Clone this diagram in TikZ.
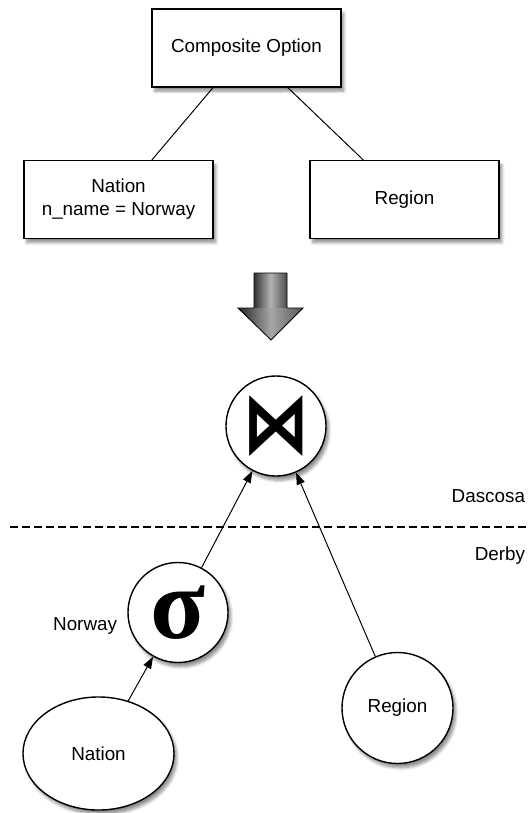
\documentclass[tikz,border=0pt]{standalone}
\usepackage{fontspec}
\setmainfont{Liberation Sans}
\newfontfamily\sigmafont{Liberation Serif}
\newfontfamily\joinfont{DejaVu Sans}
\usetikzlibrary{arrows.meta,shapes.geometric,shadows.blur}
\tikzset{
  soft/.style={blur shadow={shadow xshift=2pt,shadow yshift=-3pt,shadow blur steps=6,shadow opacity=45}},
  optbox/.style={draw,line width=1pt,fill=white,soft,minimum width=4.725cm,minimum height=1.94cm,align=center},
  opnode/.style={draw,circle,line width=1pt,fill=white,soft,minimum size=2.5cm,inner sep=0pt},
  flow/.style={line width=0.7pt,-{Triangle[length=8.5pt,width=6pt]}}
}
\begin{document}
\begin{tikzpicture}[x=0.025cm,y=-0.025cm,every node/.style={font=\fontsize{13.4}{16.4}\selectfont}]
  \useasboundingbox (0,0) rectangle (531,813);
  % option tree
  \node[optbox] (comp) at (246.5,48) {Composite Option};
  \node[optbox] (natopt) at (118.5,199.5) {Nation\\n\_name = Norway};
  \node[optbox] (regopt) at (404.5,199.5) {Region};
  \draw[line width=0.7pt] (comp) -- (natopt);
  \draw[line width=0.7pt] (comp) -- (regopt);
  % big arrow
  \shade[left color=black!80,right color=black!70,middle color=black!30]
    (254,273) rectangle (287,308.5);
  \shade[left color=black!85,right color=black!65,middle color=black!35]
    (303,308) -- (271,340) -- (238,308) -- cycle;
  \draw[line width=0.6pt,line join=miter]
    (254,273) -- (287,273) -- (287,308) -- (303,308) -- (271,340) -- (238,308) -- (254,308) -- cycle;
  % plan
  \node[opnode] (join) at (276,426) {\joinfont\bfseries\fontsize{60}{60}\selectfont\scalebox{0.8}[1]{⋈}};
  \node[opnode] (sel) at (178,612.5) {\raisebox{-0.28cm}{\sigmafont\bfseries\fontsize{72}{72}\selectfont σ}};
  \node[draw,ellipse,line width=1pt,fill=white,soft,minimum width=3.775cm,minimum height=2.825cm] (nat) at (98.5,753.5) {Nation};
  \node[draw,circle,line width=1pt,fill=white,soft,minimum size=2.775cm,inner sep=0pt] (reg) at (397.5,708) {Region};
  \node[anchor=east] (norway) at (122,626) {Norway};
  \draw[flow] (nat) -- (sel);
  \draw[flow] (sel) -- (join);
  \draw[flow] (reg) -- (join);
  % sites
  \coordinate (cutl) at (10,527);
  \coordinate (cutr) at (529,527);
  \draw[line width=0.9pt,dash pattern=on 5.7pt off 2.9pt] (cutl) -- (cutr);
  \node[anchor=east] (dascosa) at (530,496) {Dascosa};
  \node[anchor=east] (derby) at (530,556) {Derby};
\end{tikzpicture}
\end{document}
